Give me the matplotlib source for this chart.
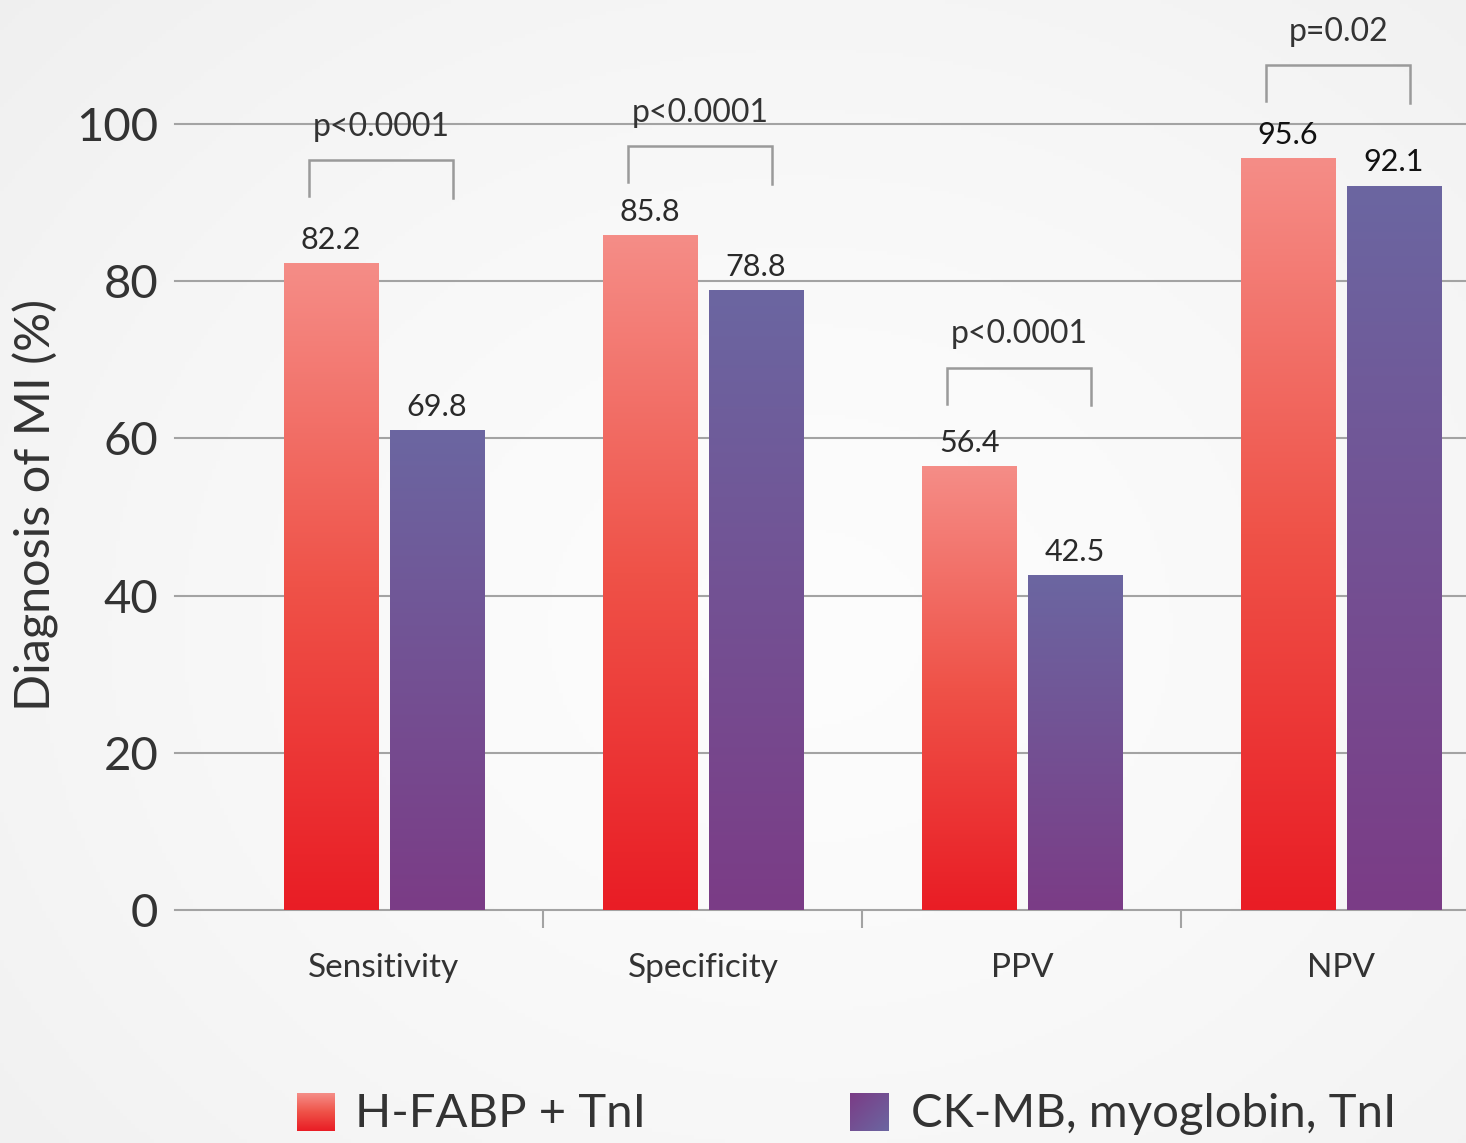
import numpy as np
import matplotlib.pyplot as plt
from matplotlib.colors import LinearSegmentedColormap

plt.rcParams["font.family"] = ["Lato", "DejaVu Sans"]

W, H = 1466, 1143
DPI = 100

# ── data ──────────────────────────────────────────────────────────────────────
categories = ["Sensitivity", "Specificity", "PPV", "NPV"]
hfabp_values = [82.2, 85.8, 56.4, 95.6]
ckmb_labels = [69.8, 78.8, 42.5, 92.1]
ckmb_bars = [61.0, 78.8, 42.5, 92.1]      # first bar is drawn short in the source
p_labels = ["p<0.0001", "p<0.0001", "p<0.0001", "p=0.02"]
bracket_tops = [95.4, 97.2, 69.0, 107.5]
series_names = ["H-FABP + TnI", "CK-MB, myoglobin, TnI"]
yticks = [0, 20, 40, 60, 80, 100]

TEXT = "#333333"
GRID = "#a3a3a3"
red_cmap = LinearSegmentedColormap.from_list("red", ["#e91d25", "#ef5248", "#f58d87"])
purple_cmap = LinearSegmentedColormap.from_list("purple", ["#7b3c86", "#6b66a1"])

fig = plt.figure(figsize=(W / DPI, H / DPI), dpi=DPI)

# ── background: soft radial grey ─────────────────────────────────────────────
bg = fig.add_axes([0, 0, 1, 1], zorder=-10)
yy, xx = np.mgrid[0:1:300j, 0:1:380j]
r = np.sqrt(((xx - 0.55) / 0.75) ** 2 + ((yy - 0.45) / 0.8) ** 2)
shade = np.clip(0.99 - 0.05 * r ** 1.5, 0.92, 1.0)
bg.imshow(np.dstack([shade] * 3), extent=[0, 1, 0, 1], aspect="auto", origin="lower")
bg.set_axis_off()

# ── main axes, placed in pixel terms ─────────────────────────────────────────
left, right, y0, y100 = 175, 1466, 910, 124
ax = fig.add_axes([left / W, 1 - y0 / H, (right - left) / W, (y0 - y100) / H])
ax.patch.set_alpha(0)

x = np.arange(len(categories))
bw = 0.295
off = 0.1655
xlim = (-0.655, 3.392)
ylim = (0, 100)


def gradient_bars(xpos, heights, cmap):
    bars = ax.bar(xpos, heights, bw, color="none", edgecolor="none", zorder=3)
    grad = np.linspace(0, 1, 256).reshape(-1, 1)
    for b in bars:
        bx, bh = b.get_x(), b.get_height()
        ax.imshow(grad, extent=[bx, bx + b.get_width(), 0, bh], origin="lower",
                  aspect="auto", cmap=cmap, zorder=3)
    return bars


red_bars = gradient_bars(x - off, hfabp_values, red_cmap)
pur_bars = gradient_bars(x + off, ckmb_bars, purple_cmap)

for bars, labels in ((red_bars, hfabp_values), (pur_bars, ckmb_labels)):
    for i, (b, v) in enumerate(zip(bars, labels)):
        ax.annotate(f"{v:.1f}", (b.get_x() + b.get_width() / 2, b.get_height()),
                    xytext=(0, 7), textcoords="offset points", ha="center",
                    va="bottom", fontsize=22,
                    color="#111111" if i == 3 else "#2a2a2a", zorder=5)

# p-value brackets
for xi, top, lab in zip(x, bracket_tops, p_labels):
    xl, xr = xi - 0.235, xi + 0.218
    ax.plot([xl, xl, xr, xr], [top - 4.6, top, top, top - 4.8], color="#9a9a9a",
            lw=1.8, clip_on=False, zorder=4, solid_joinstyle="miter")
    ax.annotate(lab, ((xl + xr) / 2, top), xytext=(0, 24), textcoords="offset points",
                ha="center", va="center", fontsize=23, color=TEXT, annotation_clip=False)

ax.set_xlim(*xlim)
ax.set_ylim(*ylim)

# grid & spines
for t in yticks[1:]:
    ax.axhline(t, color=GRID, lw=1.5, zorder=1, clip_on=False)
for s in ("top", "right", "left"):
    ax.spines[s].set_visible(False)
ax.spines["bottom"].set_color(GRID)
ax.spines["bottom"].set_linewidth(1.5)
ax.spines["bottom"].set_zorder(2)

ax.set_yticks(yticks)
ax.set_yticklabels([str(t) for t in yticks], fontsize=34, color=TEXT)
ax.tick_params(axis="y", length=0, pad=12)

ax.set_xticks(x)
ax.set_xticklabels(categories, fontsize=24, color=TEXT)
ax.tick_params(axis="x", which="major", length=0, pad=31)
ax.set_xticks(x[:-1] + 0.5, minor=True)
ax.tick_params(axis="x", which="minor", length=13, width=1.5, color=GRID)

fig.text(36 / W, 1 - 505 / H, "Diagnosis of MI (%)", rotation=90, ha="center",
         va="center", fontsize=35, color=TEXT)

# ── legend with gradient swatches ────────────────────────────────────────────
def swatch(px, py, size, cmap, diagonal):
    sax = fig.add_axes([px / W, 1 - (py + size) / H, size / W, size / H])
    gy, gx = np.mgrid[0:1:64j, 0:1:64j]
    g = 1 - (gy + (1 - gx)) / 2 if diagonal else gy
    sax.imshow(g, origin="lower", cmap=cmap, aspect="auto", extent=[0, 1, 0, 1])
    sax.set_axis_off()


swatch(297, 1093, 38, red_cmap, False)
swatch(850, 1093, 38, purple_cmap, True)
fig.text(355 / W, 1 - 1114 / H, series_names[0], ha="left", va="center",
         fontsize=34, color=TEXT)
fig.text(911 / W, 1 - 1114 / H, series_names[1], ha="left", va="center",
         fontsize=34, color=TEXT)

fig.savefig("out.png", dpi=DPI)
